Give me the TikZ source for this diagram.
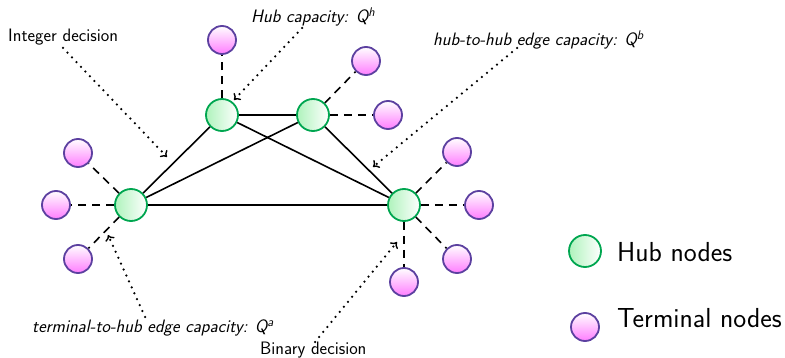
\documentclass[tikz,border=0pt]{standalone}
\usetikzlibrary{arrows.meta}
\definecolor{hubline}{RGB}{0,166,80}
\definecolor{hubfill}{RGB}{175,243,188}
\definecolor{termline}{RGB}{92,64,160}
\definecolor{termfill}{RGB}{255,125,255}
\tikzset{
  hub/.style={circle, draw=hubline, line width=1.8pt, minimum size=32pt, inner sep=0pt,
    left color=hubfill, right color=white},
  terminal/.style={circle, draw=termline, line width=1.8pt, minimum size=28pt, inner sep=0pt,
    top color=white, bottom color=termfill},
  hubedge/.style={line width=1.6pt},
  termedge/.style={line width=1.6pt, dash pattern=on 8pt off 6pt},
  callout/.style={line width=2.5pt, line cap=round, dash pattern=on 0pt off 6.5pt,
    -{To[length=5.5pt,width=10pt,line width=1.4pt]}},
  lbl/.style={font=\sffamily\fontsize{18}{21}\selectfont, inner sep=0pt},
  ilbl/.style={font=\sffamily\itshape\fontsize{18}{21}\selectfont, inner sep=0pt},
  legendtxt/.style={font=\sffamily\fontsize{27.5}{32}\selectfont, inner sep=0pt, anchor=west},
}
\begin{document}
\begin{tikzpicture}[x=1pt, y=-1pt]
\useasboundingbox (0,0) rectangle (785,358);

% hub nodes
\node[hub] (h1) at (131,205) {};
\node[hub] (h2) at (222,115) {};
\node[hub] (h3) at (313,115) {};
\node[hub] (h4) at (404,205) {};

% terminal nodes
\node[terminal] (t1) at (222,40) {};
\node[terminal] (t2) at (366,61) {};
\node[terminal] (t3) at (388,115) {};
\node[terminal] (t4) at (78,153) {};
\node[terminal] (t5) at (56,205) {};
\node[terminal] (t6) at (78,259) {};
\node[terminal] (t7) at (457,152) {};
\node[terminal] (t8) at (479,205) {};
\node[terminal] (t9) at (457,259) {};
\node[terminal] (t10) at (404,282) {};

% hub-to-hub edges
\draw[hubedge] (h1) -- (h2);
\draw[hubedge] (h1) -- (h3);
\draw[hubedge] (h1) -- (h4);
\draw[hubedge] (h2) -- (h3);
\draw[hubedge] (h2) -- (h4);
\draw[hubedge] (h3) -- (h4);

% terminal-to-hub edges
\draw[termedge] (h2) -- (t1);
\draw[termedge] (h3) -- (t2);
\draw[termedge] (h3) -- (t3);
\draw[termedge] (h1) -- (t4);
\draw[termedge] (h1) -- (t5);
\draw[termedge] (h1) -- (t6);
\draw[termedge] (h4) -- (t7);
\draw[termedge] (h4) -- (t8);
\draw[termedge] (h4) -- (t9);
\draw[termedge] (h4) -- (t10);

% labels
\node[lbl, anchor=west] (lint) at (8,37) {Integer decision};
\node[ilbl, anchor=west] (lhub) at (251,17) {Hub capacity: Q\textsuperscript{h}};
\node[ilbl, anchor=west] (lhh) at (433,40) {hub-to-hub edge capacity: Q\textsuperscript{b}};
\node[ilbl, anchor=west] (lth) at (32,328) {terminal-to-hub edge capacity: Q\textsuperscript{a}};
\node[lbl, anchor=west] (lbin) at (260,350) {Binary decision};

% callout arrows
\coordinate (aint) at (167,157);
\coordinate (ahub) at (234,100);
\coordinate (ahh) at (373,167);
\coordinate (ath) at (108,235);
\coordinate (abin) at (397,242);
\coordinate (sint) at (63,48);
\coordinate (shub) at (302,28);
\coordinate (shh) at (517,48);
\coordinate (sth) at (145,317);
\coordinate (sbin) at (315,342);
\draw[callout] (sint) -- (aint);
\draw[callout] (shub) -- (ahub);
\draw[callout] (shh) -- (ahh);
\draw[callout] (sth) -- (ath);
\draw[callout] (sbin) -- (abin);

% legend
\node[hub] (lghub) at (585,251) {};
\node[legendtxt] (lghubt) at (617,252) {Hub nodes};
\node[terminal] (lgterm) at (585,327) {};
\node[legendtxt] (lgtermt) at (617,318) {Terminal nodes};
\end{tikzpicture}
\end{document}
